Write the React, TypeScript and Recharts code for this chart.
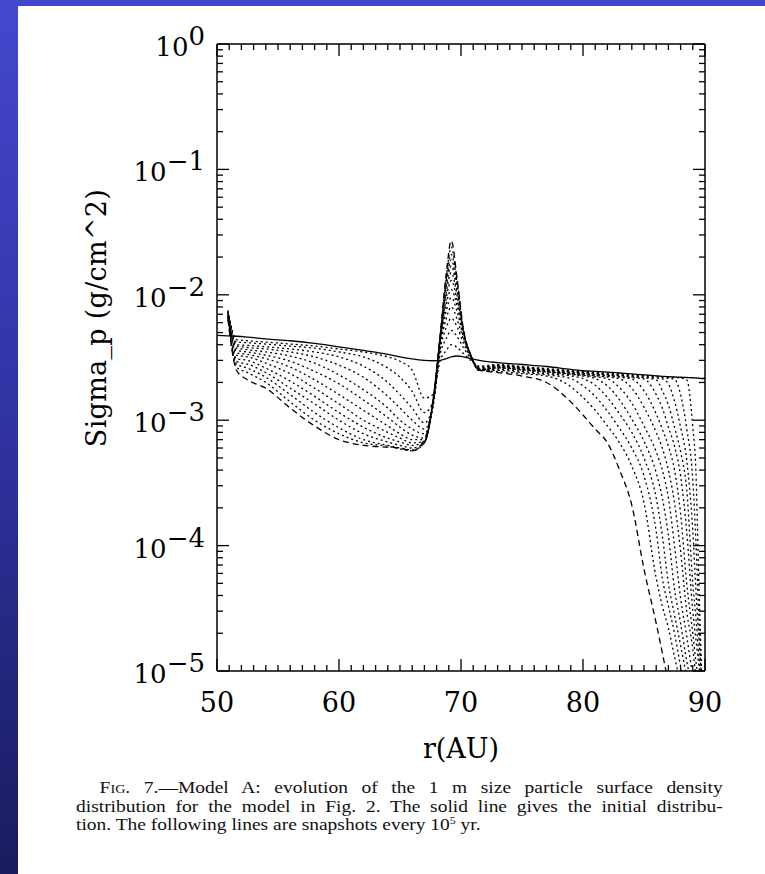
import React from "react";
import { LineChart, Line, XAxis, YAxis } from "recharts";

// radius grid, AU
const radius = [50, 50.9, 51.6, 52.5, 54, 56, 58, 60, 62, 64, 65, 66, 67, 67.7, 68.3, 68.8, 69.2, 69.7, 70.2, 70.8, 71.5,
  73, 75, 77, 79, 80, 81, 82, 83, 84, 85, 86, 86.5, 87, 87.5, 88, 88.5, 89, 89.25, 89.5, 89.75, 90];

// surface density, in units of 1e-3 g/cm^2
const initial = [4.75, 4.7, 4.67, 4.6, 4.45, 4.3, 4.1, 3.85, 3.6, 3.35, 3.2, 3.08, 3.0, 2.98, 3.0, 3.1, 3.2, 3.25, 3.2, 3.1, 3.0,
  2.88, 2.78, 2.68, 2.54, 2.48, 2.45, 2.42, 2.38, 2.34, 2.3, 2.26, 2.24, 2.22, 2.21, 2.2, 2.19, 2.18, 2.17, 2.16, 2.15, 2.15];

const snap1 = [null, 7.5, 4.4, 4.3, 4.2, 4.05, 3.9, 3.7, 3.5, 3.2, 2.95, 2.5, 1.5, 1.6, 3.0, 3.6, 4.0, 3.8, 3.4, 3.0, 2.7,
  2.78, 2.68, 2.58, 2.49, 2.44, 2.4, 2.37, 2.34, 2.31, 2.28, 2.25, 2.23, 2.21, 2.19, 2.17, 2.1, 0.88, 0.4, 0.05, 0.008, null];
const snap2 = [null, 7.4, 4.2, 4.15, 4.05, 3.9, 3.75, 3.5, 3.2, 2.6, 2.2, 1.7, 1.15, 1.4, 3.4, 4.5, 5.2, 4.6, 3.8, 3.1, 2.65,
  2.76, 2.66, 2.56, 2.47, 2.42, 2.38, 2.34, 2.31, 2.28, 2.25, 2.21, 2.19, 2.16, 2.12, 1.6, 0.86, 0.33, 0.11, 0.026, 0.008, null];
const snap3 = [null, 7.3, 4.0, 3.95, 3.85, 3.7, 3.5, 3.2, 2.7, 2.0, 1.6, 1.25, 0.95, 1.3, 3.7, 5.5, 6.5, 5.5, 4.1, 3.2, 2.6,
  2.74, 2.64, 2.54, 2.45, 2.4, 2.36, 2.32, 2.28, 2.25, 2.21, 2.17, 2.14, 1.95, 1.42, 0.88, 0.48, 0.13, 0.045, 0.018, 0.008, null];
const snap4 = [null, 7.2, 3.9, 3.8, 3.7, 3.5, 3.2, 2.75, 2.2, 1.55, 1.25, 1.0, 0.85, 1.3, 3.9, 6.5, 8.0, 6.3, 4.4, 3.2, 2.6,
  2.72, 2.62, 2.52, 2.43, 2.38, 2.34, 2.3, 2.26, 2.22, 2.18, 2.1, 1.72, 1.32, 0.88, 0.56, 0.28, 0.05, 0.027, 0.013, 0.0075, null];
const snap5 = [null, 7.1, 3.75, 3.65, 3.5, 3.25, 2.85, 2.3, 1.75, 1.25, 1.0, 0.85, 0.78, 1.3, 4.1, 7.5, 9.5, 7.2, 4.6, 3.25, 2.55,
  2.7, 2.6, 2.5, 2.4, 2.36, 2.31, 2.27, 2.23, 2.19, 2.13, 1.6, 1.25, 0.88, 0.62, 0.36, 0.13, 0.03, 0.018, 0.011, 0.007, null];
const snap6 = [null, 7.0, 3.6, 3.5, 3.3, 2.95, 2.45, 1.95, 1.45, 1.05, 0.88, 0.76, 0.72, 1.3, 4.2, 8.5, 11, 8.0, 4.8, 3.25, 2.55,
  2.68, 2.57, 2.47, 2.38, 2.33, 2.29, 2.24, 2.2, 2.13, 1.72, 1.12, 0.85, 0.62, 0.4, 0.18, 0.05, 0.02, 0.012, 0.008, null, null];
const snap7 = [null, 6.9, 3.45, 3.35, 3.1, 2.65, 2.1, 1.6, 1.2, 0.9, 0.78, 0.7, 0.7, 1.35, 4.3, 9.5, 13, 8.8, 4.9, 3.25, 2.5,
  2.65, 2.55, 2.45, 2.36, 2.31, 2.26, 2.21, 2.14, 1.8, 1.27, 0.8, 0.6, 0.4, 0.22, 0.09, 0.03, 0.015, 0.009, null, null, null];
const snap8 = [null, 6.8, 3.3, 3.2, 2.85, 2.35, 1.8, 1.35, 1.0, 0.8, 0.72, 0.66, 0.68, 1.35, 4.4, 10.5, 15, 9.6, 5.0, 3.3, 2.5,
  2.62, 2.52, 2.43, 2.33, 2.28, 2.22, 2.14, 1.82, 1.37, 0.9, 0.56, 0.4, 0.24, 0.1, 0.038, 0.019, 0.009, null, null, null, null];
const snap9 = [null, 6.7, 3.1, 3.0, 2.6, 2.05, 1.55, 1.15, 0.88, 0.72, 0.67, 0.63, 0.67, 1.4, 4.5, 11.5, 17, 10.4, 5.1, 3.3, 2.5,
  2.6, 2.5, 2.4, 2.3, 2.25, 2.15, 1.88, 1.45, 1.02, 0.68, 0.38, 0.24, 0.12, 0.045, 0.024, 0.012, 0.007, null, null, null, null];
const snap10 = [null, 6.6, 2.95, 2.8, 2.4, 1.8, 1.35, 1.0, 0.78, 0.67, 0.63, 0.6, 0.66, 1.4, 4.6, 12.5, 19, 11.2, 5.1, 3.3, 2.5,
  2.55, 2.45, 2.35, 2.25, 2.15, 1.9, 1.52, 1.12, 0.8, 0.5, 0.24, 0.12, 0.05, 0.028, 0.016, 0.009, null, null, null, null, null];
const snap11 = [null, 6.5, 2.8, 2.6, 2.2, 1.6, 1.15, 0.87, 0.7, 0.63, 0.6, 0.58, 0.66, 1.4, 4.7, 13.5, 21, 12, 5.2, 3.3, 2.5,
  2.5, 2.4, 2.3, 2.15, 1.88, 1.55, 1.18, 0.86, 0.6, 0.36, 0.13, 0.055, 0.033, 0.02, 0.011, 0.007, null, null, null, null, null];
const snap12 = [null, 6.4, 2.65, 2.4, 2.0, 1.4, 1.0, 0.78, 0.66, 0.62, 0.59, 0.57, 0.66, 1.45, 4.8, 14, 24, 12.5, 5.2, 3.3, 2.5,
  2.45, 2.35, 2.25, 1.85, 1.52, 1.2, 0.9, 0.66, 0.43, 0.22, 0.055, 0.033, 0.022, 0.013, 0.008, null, null, null, null, null, null];
// last snapshot (dashed)
const snap13 = [null, 6.3, 2.5, 2.1, 1.8, 1.25, 0.9, 0.7, 0.63, 0.61, 0.6, 0.57, 0.7, 1.45, 4.9, 15, 27, 13, 5.3, 3.3, 2.5,
  2.4, 2.25, 2.0, 1.4, 1.1, 0.85, 0.66, 0.4, 0.21, 0.065, 0.024, 0.014, 0.008, null, null, null, null, null, null, null, null];

const snapshots = [snap1, snap2, snap3, snap4, snap5, snap6, snap7, snap8, snap9, snap10, snap11, snap12, snap13];

const xMajor = [50, 60, 70, 80, 90];
const xTicks = Array.from({ length: 41 }, (_, i) => 50 + i);
const yExponents = [-5, -4, -3, -2, -1, 0];
const yTicks: number[] = [];
yExponents.forEach((e) => {
  yTicks.push(Math.pow(10, e));
  if (e < 0) for (let m = 2; m <= 9; m++) yTicks.push(m * Math.pow(10, e));
});

const rows = radius.map((r, i) => {
  const row: any = { r, init: initial[i] * 1e-3 };
  snapshots.forEach((s, k) => {
    const v = s[i];
    row[`s${k + 1}`] = v == null ? null : v * 1e-3;
  });
  return row;
});

const font = "'DejaVu Serif', serif";
const isDecade = (v: number) => Math.abs(Math.log10(v) - Math.round(Math.log10(v))) < 1e-6;

function BottomTick({ x, y, payload }: any) {
  const major = xMajor.includes(payload.value);
  return (
    <g>
      <line x1={x} x2={x} y1={y} y2={y - (major ? 12 : 6)} stroke="#000" strokeWidth={1.3} />
      {major && (
        <text x={x} y={y + 41} textAnchor="middle" fontFamily={font} fontSize={27} fill="#000">{payload.value}</text>
      )}
    </g>
  );
}

function TopTick({ x, y, payload }: any) {
  const major = xMajor.includes(payload.value);
  return <line x1={x} x2={x} y1={y} y2={y + (major ? 12 : 6)} stroke="#000" strokeWidth={1.3} />;
}

function LeftTick({ x, y, payload }: any) {
  const v = payload.value;
  const major = isDecade(v);
  const e = Math.round(Math.log10(v));
  return (
    <g>
      <line x1={x} x2={x + (major ? 12 : 6)} y1={y} y2={y} stroke="#000" strokeWidth={1.3} />
      {major && (
        <text x={205} y={y + 12} textAnchor="end" fontFamily={font} fontSize={26} fill="#000">
          10<tspan dy={-11}>{e < 0 ? `\u2212${-e}` : `${e}`}</tspan>
        </text>
      )}
    </g>
  );
}

function RightTick({ x, y, payload }: any) {
  const major = isDecade(payload.value);
  return <line x1={x} x2={x - (major ? 12 : 6)} y1={y} y2={y} stroke="#000" strokeWidth={1.3} />;
}

const axisLine = { stroke: "#000", strokeWidth: 1.5 };

export default function App() {
  return (
    <div style={{ position: "absolute", left: 0, top: 0, width: 765, height: 874, background: "#fff", overflow: "hidden" }}>
      <div style={{ position: "absolute", left: 0, top: 0, width: 765, height: 6, background: "#4347cb" }} />
      <div style={{ position: "absolute", left: 0, top: 0, width: 18, height: 874,
        background: "linear-gradient(180deg, #4448ce 0%, #2f32a0 50%, #1a1b5e 100%)" }} />
      <LineChart width={765} height={874} data={rows}
        margin={{ top: 34, left: 187, right: 50, bottom: 173 }} style={{ position: "absolute", left: 0, top: 0 }}>
        <XAxis dataKey="r" type="number" domain={[50, 90]} ticks={xTicks} interval={0} allowDataOverflow
          height={30} tickSize={0} tickMargin={0} tickLine={false} axisLine={axisLine} tick={<BottomTick />} />
        <XAxis xAxisId="top" orientation="top" dataKey="r" type="number" domain={[50, 90]} ticks={xTicks} interval={0}
          allowDataOverflow height={10} tickSize={0} tickMargin={0} tickLine={false} axisLine={axisLine} tick={<TopTick />} />
        <YAxis scale="log" type="number" domain={[1e-5, 1]} ticks={yTicks} interval={0} allowDataOverflow
          width={30} tickSize={0} tickMargin={0} tickLine={false} axisLine={axisLine} tick={<LeftTick />} />
        <YAxis yAxisId="right" orientation="right" scale="log" type="number" domain={[1e-5, 1]} ticks={yTicks}
          interval={0} allowDataOverflow width={10} tickSize={0} tickMargin={0} tickLine={false} axisLine={axisLine}
          tick={<RightTick />} />
        <Line dataKey="init" type="monotone" stroke="#000" strokeWidth={1.3} dot={false} isAnimationActive={false} />
        {snapshots.map((_, k) => (
          <Line key={k} dataKey={`s${k + 1}`} type="monotone" stroke="#000" strokeWidth={1.3}
            strokeDasharray={k === snapshots.length - 1 ? "6 4" : "2 3"} dot={false} isAnimationActive={false} />
        ))}
      </LineChart>
      <svg width={765} height={874} style={{ position: "absolute", left: 0, top: 0, pointerEvents: "none" }}>
        <text transform="translate(106,318) rotate(-90)" textAnchor="middle"
          fontFamily={font} fontSize={27} letterSpacing={0.3} fill="#000">Sigma_p (g/cm^2)</text>
        <text x={461} y={758} textAnchor="middle" fontFamily={font} fontSize={27} fill="#000">r(AU)</text>
      </svg>
      {/* caption, slightly stretched horizontally like the source scan */}
      <div style={{ position: "absolute", left: 76, top: 779, width: 548, transform: "scaleX(1.18)",
        transformOrigin: "0 0", fontFamily: "'Liberation Serif', serif", fontSize: 16.5, lineHeight: "18.5px",
        color: "#111" }}>
        <div style={{ paddingLeft: 20, textAlign: "justify", textAlignLast: "justify", whiteSpace: "nowrap" }}>
          <span style={{ fontVariant: "small-caps" }}>Fig.</span> 7.—Model A: evolution of the 1 m size particle surface density
        </div>
        <div style={{ textAlign: "justify", textAlignLast: "justify", whiteSpace: "nowrap" }}>
          distribution for the model in Fig. 2. The solid line gives the initial distribu-
        </div>
        <div style={{ whiteSpace: "nowrap" }}>
          tion. The following lines are snapshots every 10<sup style={{ fontSize: 10, lineHeight: 0 }}>5</sup> yr.
        </div>
      </div>
    </div>
  );
}
